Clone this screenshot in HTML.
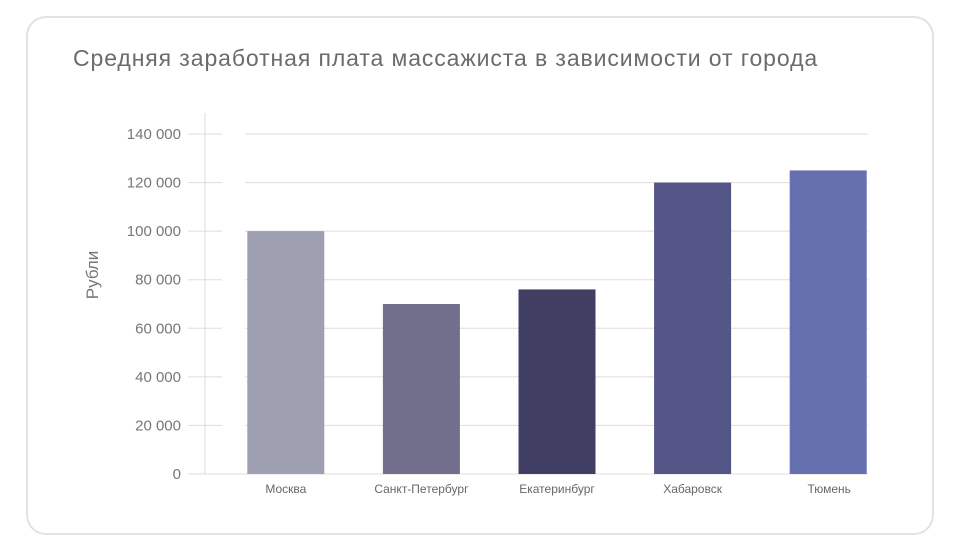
<!DOCTYPE html>
<html><head><meta charset="utf-8"><style>
body{margin:0;background:#fff;width:961px;height:550px;overflow:hidden;font-family:"Liberation Sans",sans-serif}
#card{position:absolute;left:26px;top:16px;width:908px;height:519px;border:2px solid #e2e2e2;border-radius:20px;box-sizing:border-box}
#title{position:absolute;left:73px;top:45px;font-size:23px;color:#6b6b6b;letter-spacing:0.9px}
</style></head><body>
<div id="card"></div>
<div id="title">Средняя заработная плата массажиста в зависимости от города</div>
<svg id="chart" width="961" height="550" style="position:absolute;left:0;top:0"></svg>
<script>
const categories=["Москва","Санкт-Петербург","Екатеринбург","Хабаровск","Тюмень"];
const values=[100000,70000,76000,120000,125000];
const colors=["#9e9fb1","#716f8b","#403e62","#525586","#6770ae"];
const ticks=[0,20000,40000,60000,80000,100000,120000,140000];
const tickLabels=["0","20 000","40 000","60 000","80 000","100 000","120 000","140 000"];
const NS="http://www.w3.org/2000/svg";
const svg=document.getElementById('chart');
const y0=474,yMax=140000,yTop=134;
function y(v){return y0-(v/yMax)*(y0-yTop);}
const xStart=218,slot=135.6,barW=77;
function x(i){return xStart+i*slot+(slot-barW)/2;}
function el(t,a){const e=document.createElementNS(NS,t);for(const k in a)e.setAttribute(k,a[k]);svg.appendChild(e);return e;}
const ax=el('line',{x1:205,x2:205,y1:113,y2:y0,stroke:'#ddd','stroke-width':1});


ticks.forEach((t,i)=>{
  const yy=y(t);
  const tk=el('line',{x1:188,x2:222,y1:yy,y2:yy,stroke:'#ddd','stroke-width':1});
  
  
  const g=el('line',{x1:i==0?188:245,x2:868,y1:yy,y2:yy,stroke:'#ddd','stroke-width':1});
  
  
  const tx=el('text',{x:181,y:yy+5,'text-anchor':'end','font-size':15,fill:'#777'});
  tx.textContent=tickLabels[i];
  
  
});
values.forEach((v,i)=>{
  const r=el('rect',{x:x(i),y:y(v),width:barW,height:y0-y(v),fill:colors[i]});
  
  
  const t=el('text',{x:x(i)+barW/2+(i==4?1:0),y:493,'text-anchor':'middle','font-size':12,fill:'#666'});
  t.textContent=categories[i];
  
  
});
const yt=el('text',{x:0,y:0,transform:'translate(98,275) rotate(-90)','text-anchor':'middle','font-size':17,fill:'#777'});
yt.textContent="Рубли";


</script>
</body></html>
